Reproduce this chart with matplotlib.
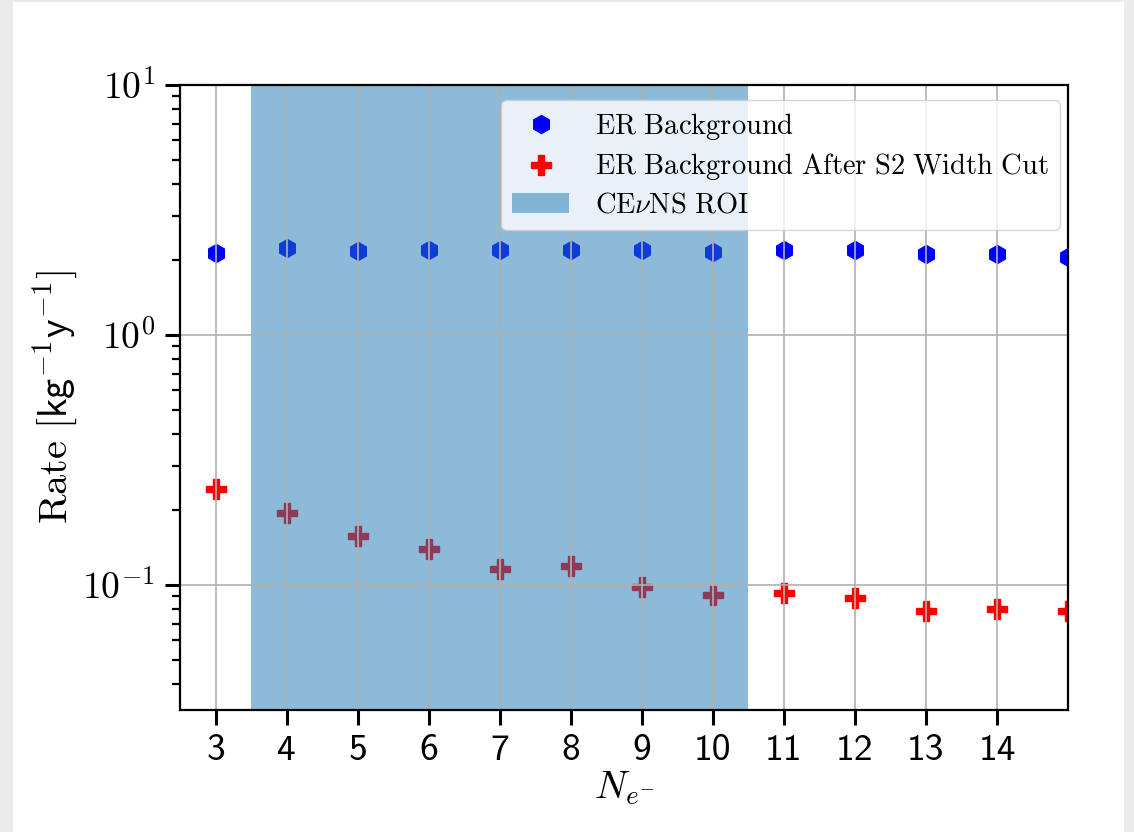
import numpy as np
import matplotlib
matplotlib.use("Agg")
import matplotlib.pyplot as plt
from matplotlib.patches import Rectangle
from matplotlib.ticker import NullFormatter

plt.rcParams.update({
    'mathtext.fontset': 'cm',
    'font.family': 'serif',
})

n_e = np.arange(3, 16)
er_rate = [2.13, 2.23, 2.17, 2.19, 2.19, 2.19, 2.19, 2.15, 2.19, 2.19, 2.11, 2.11, 2.05]
er_cut_rate = [0.242, 0.194, 0.157, 0.139, 0.116, 0.119, 0.098, 0.091, 0.093, 0.089, 0.0787, 0.080, 0.0787]
roi = (3.5, 10.5)

xticks = list(range(3, 15))
xticklabels = [str(t) for t in xticks]
yticks = [0.1, 1, 10]
yticklabels = [r'$10^{-1}$', r'$10^{0}$', r'$10^{1}$']

fig = plt.figure(figsize=(11.34, 8.32), dpi=100, facecolor='#ebebeb')
fig.patches.append(Rectangle((13 / 1134, 0), 1111 / 1134, 830 / 832,
                             transform=fig.transFigure, facecolor='white',
                             edgecolor='none', zorder=-10))
ax = fig.add_axes([180 / 1134, 1 - 710 / 832, 888 / 1134, 625 / 832])

ax.plot(n_e, er_rate, 'h', color='blue', markersize=13, label=r'$\mathrm{ER\ Background}$', zorder=2)
ax.plot(n_e, er_cut_rate, 'P', color='red', markersize=14,
        label=r'$\mathrm{ER\ Background\ After\ S2\ Width\ Cut}$', zorder=2)
ax.axvspan(*roi, color='C0', alpha=0.5, lw=0, label=r'$\mathrm{CE}\nu\mathrm{NS\ ROI}$', zorder=2.2)

ax.set_yscale('log')
ax.set_xlim(2.5, 15)
ax.set_ylim(10 ** -1.5, 10)
ax.set_xticks(xticks)
ax.set_xticklabels(xticklabels, fontsize=27, fontfamily='cmss10')
ax.set_yticks(yticks)
ax.set_yticklabels(yticklabels, fontsize=27)
ax.yaxis.set_minor_formatter(NullFormatter())

ax.set_axisbelow(False)
ax.grid(True, which='major', color='#b0b0b0', lw=1.2)
for s in ax.spines.values():
    s.set_linewidth(1.6)
    s.set_zorder(5)
ax.tick_params(which='major', length=11, width=2.2, pad=6)
ax.tick_params(axis='y', which='major', pad=7)
ax.tick_params(which='minor', length=6, width=1.6)

ax.set_xlabel(r'$N_{e^{-}}$', fontsize=28, labelpad=2)
ax.set_ylabel(r'$\mathrm{Rate}\ [\mathsf{kg}^{-1}\mathsf{y}^{-1}]$', fontsize=29, labelpad=2)

ax.legend(loc='upper right', bbox_to_anchor=(1 - 8 / 888, 1 - 15 / 625),
          fontsize=20.5, framealpha=0.8, borderpad=0.4, borderaxespad=0,
          handletextpad=0.9, labelspacing=0.32)

fig.savefig('out.png', dpi=100, facecolor=fig.get_facecolor())
